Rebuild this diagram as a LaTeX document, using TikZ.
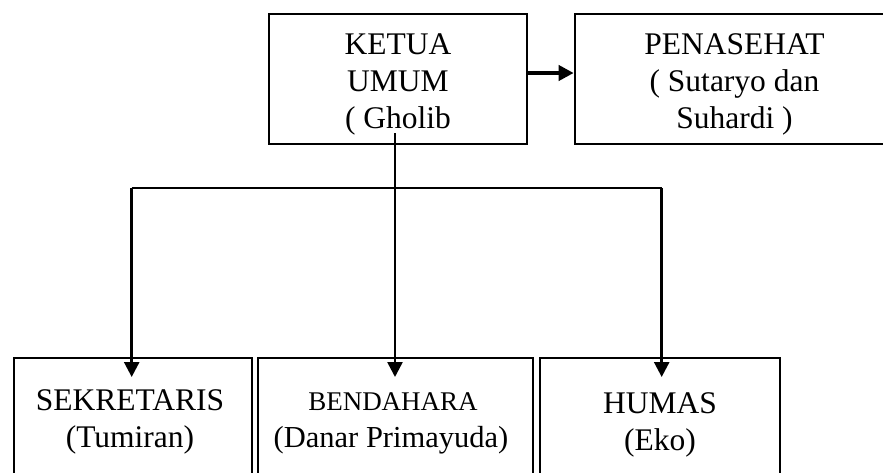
\documentclass[tikz,border=0pt]{standalone}
\usepackage{fontspec}
\setmainfont{Liberation Serif}
\usetikzlibrary{arrows.meta}
\begin{document}
\begin{tikzpicture}[x=1pt,y=-1pt,
  box/.style={draw, line width=2.6pt, rectangle, inner sep=0pt},
  txt/.style={align=center, inner sep=0pt, anchor=base, font=\fontsize{31.5}{37}\selectfont},
  conn/.style={line width=2.6pt},
  arr/.style={conn, -{Triangle[length=15pt,width=15pt]}}]
\useasboundingbox (0,0) rectangle (883,472);
\clip (0,0) rectangle (883,472);
\fill[white] (0,0) rectangle (883,472);
% boxes
\node[box, minimum width=258pt, minimum height=130pt] (ketua) at (398,79) {};
\node[box, minimum width=319pt, minimum height=130pt] (penasehat) at (734.5,79) {};
\node[box, minimum width=238pt, minimum height=150pt] (sekretaris) at (133,433) {};
\node[box, minimum width=275pt, minimum height=150pt] (bendahara) at (395.5,433) {};
\node[box, minimum width=240pt, minimum height=150pt] (humas) at (660,433) {};
% texts (base = last line baseline)
\node[txt] (ketuaT) at (398,128) {KETUA\\UMUM\\( Gholib};
\node[txt] (penasehatT) at (734.5,128) {PENASEHAT\\( Sutaryo dan\\Suhardi )};
\node[txt] (sekretarisT) at (130,447) {SEKRETARIS\\(Tumiran)};
\node[txt, font=\fontsize{27}{37}\selectfont] (bendaharaT1) at (393,410) {BENDAHARA};
\node[txt, font=\fontsize{30.5}{37}\selectfont] (bendaharaT2) at (391,447) {(Danar Primayuda)};
\node[txt] (humasT) at (660,450) {HUMAS\\(Eko)};
% connectors
\draw[conn, line width=3.8pt, -{Triangle[length=15pt,width=15pt]}] ([yshift=6pt]ketua.east) -- ([yshift=6pt]penasehat.west);
\coordinate (ks) at (395,133);
\coordinate (barL) at (131.7,188);
\coordinate (barR) at (661.7,188);
\coordinate (tipS) at (131.7,377);
\coordinate (tipB) at (395,377);
\coordinate (tipH) at (661.7,377);
\draw[arr] (ks) -- (tipB);
\draw[conn] (barL) -- (barR);
\draw[arr] (barL) -- (tipS);
\draw[arr] (barR) -- (tipH);
\end{tikzpicture}
\end{document}
